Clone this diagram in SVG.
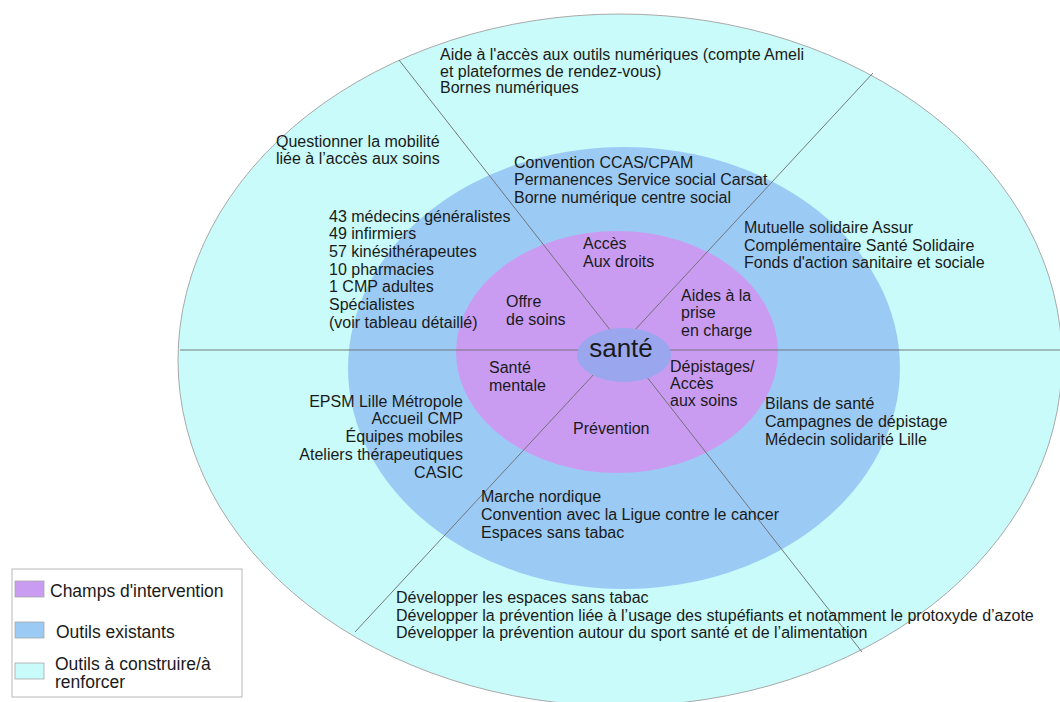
<svg xmlns="http://www.w3.org/2000/svg" width="1060" height="702" viewBox="0 0 1060 702">
<style>
text{font-family:"Liberation Sans",Arial,sans-serif;font-size:16px;fill:#1a1a1a}
.lg{font-size:17.5px}
.divider{stroke:#6b6b6b;stroke-width:0.9;fill:none}
.sw{stroke:#a8a8a8;stroke-width:0.8}
</style>
<rect width="1060" height="702" fill="#ffffff"/>
<g id="ring-outer"><ellipse cx="620" cy="360" rx="442" ry="346" fill="#c8fbf9" stroke="#a9a9a9" stroke-width="1"/></g>
<g id="ring-middle"><ellipse cx="624" cy="368" rx="276" ry="221" fill="#9bcbf5"/></g>
<g id="ring-inner"><ellipse cx="617" cy="352" rx="161" ry="121" fill="#c99cf2"/></g>
<g id="connectors">
<line class="divider" x1="180" y1="350" x2="1060" y2="350"/>
<line class="divider" x1="399" y1="60" x2="862" y2="652"/>
<line class="divider" x1="873" y1="73" x2="355" y2="632"/>
</g>
<g id="sante"><ellipse cx="624" cy="355" rx="47" ry="27" fill="#9aa7ef"/><text x="621" y="357" text-anchor="middle" style="font-size:26px">santé</text></g>
<g id="acces-droits"><text x="583" y="249">Accès</text><text x="583" y="267">Aux droits</text></g>
<g id="offre-soins"><text x="506" y="307">Offre</text><text x="506" y="325">de soins</text></g>
<g id="aides-prise-en-charge"><text x="681" y="301">Aides à la</text><text x="681" y="318">prise</text><text x="681" y="336">en charge</text></g>
<g id="depistages"><text x="670" y="372">Dépistages/</text><text x="670" y="389">Accès</text><text x="670" y="406">aux soins</text></g>
<g id="sante-mentale"><text x="489" y="373">Santé</text><text x="489" y="391">mentale</text></g>
<g id="prevention"><text x="573" y="434">Prévention</text></g>
<g id="outils-numeriques"><text x="440" y="60">Aide à l'accès aux outils numériques (compte Ameli</text><text x="440" y="77">et plateformes de rendez-vous)</text><text x="440" y="93">Bornes numériques</text></g>
<g id="mobilite"><text x="276" y="147">Questionner la mobilité</text><text x="276" y="164">liée à l’accès aux soins</text></g>
<g id="convention-ccas"><text x="514" y="168">Convention CCAS/CPAM</text><text x="514" y="185">Permanences Service social Carsat</text><text x="514" y="203">Borne numérique centre social</text></g>
<g id="offre-liste"><text x="329" y="222">43 médecins généralistes</text><text x="329" y="239">49 infirmiers</text><text x="329" y="257">57 kinésithérapeutes</text><text x="329" y="275">10 pharmacies</text><text x="329" y="292">1 CMP adultes</text><text x="329" y="310">Spécialistes</text><text x="329" y="328">(voir tableau détaillé)</text></g>
<g id="mutuelle"><text x="744" y="233">Mutuelle solidaire Assur</text><text x="744" y="251">Complémentaire Santé Solidaire</text><text x="744" y="268">Fonds d'action sanitaire et sociale</text></g>
<g id="epsm" text-anchor="end"><text x="463" y="407">EPSM Lille Métropole</text><text x="463" y="424">Accueil CMP</text><text x="463" y="442">Équipes mobiles</text><text x="463" y="460">Ateliers thérapeutiques</text><text x="463" y="478">CASIC</text></g>
<g id="bilans"><text x="765" y="409">Bilans de santé</text><text x="765" y="427">Campagnes de dépistage</text><text x="765" y="445">Médecin solidarité Lille</text></g>
<g id="marche"><text x="481" y="502">Marche nordique</text><text x="481" y="520">Convention avec la Ligue contre le cancer</text><text x="481" y="538">Espaces sans tabac</text></g>
<g id="developper"><text x="396" y="603">Développer les espaces sans tabac</text><text x="396" y="621">Développer la prévention liée à l’usage des stupéfiants et notamment le protoxyde d’azote</text><text x="396" y="638">Développer la prévention autour du sport santé et de l’alimentation</text></g>
<g id="legend">
<rect x="12" y="569" width="230" height="128" fill="#ffffff" stroke="#a8a8a8" stroke-width="0.8"/>
<rect class="sw" x="15" y="581" width="29" height="16" fill="#c99cf2"/>
<rect class="sw" x="15" y="622" width="29" height="16" fill="#9bcbf5"/>
<rect class="sw" x="15" y="663" width="29" height="16" fill="#c8fbf9"/>
<text class="lg" x="50" y="597">Champs d'intervention</text>
<text class="lg" x="56" y="638">Outils existants</text>
<text class="lg" x="55" y="670">Outils à construire/à</text>
<text class="lg" x="55" y="688">renforcer</text>
</g>
</svg>
